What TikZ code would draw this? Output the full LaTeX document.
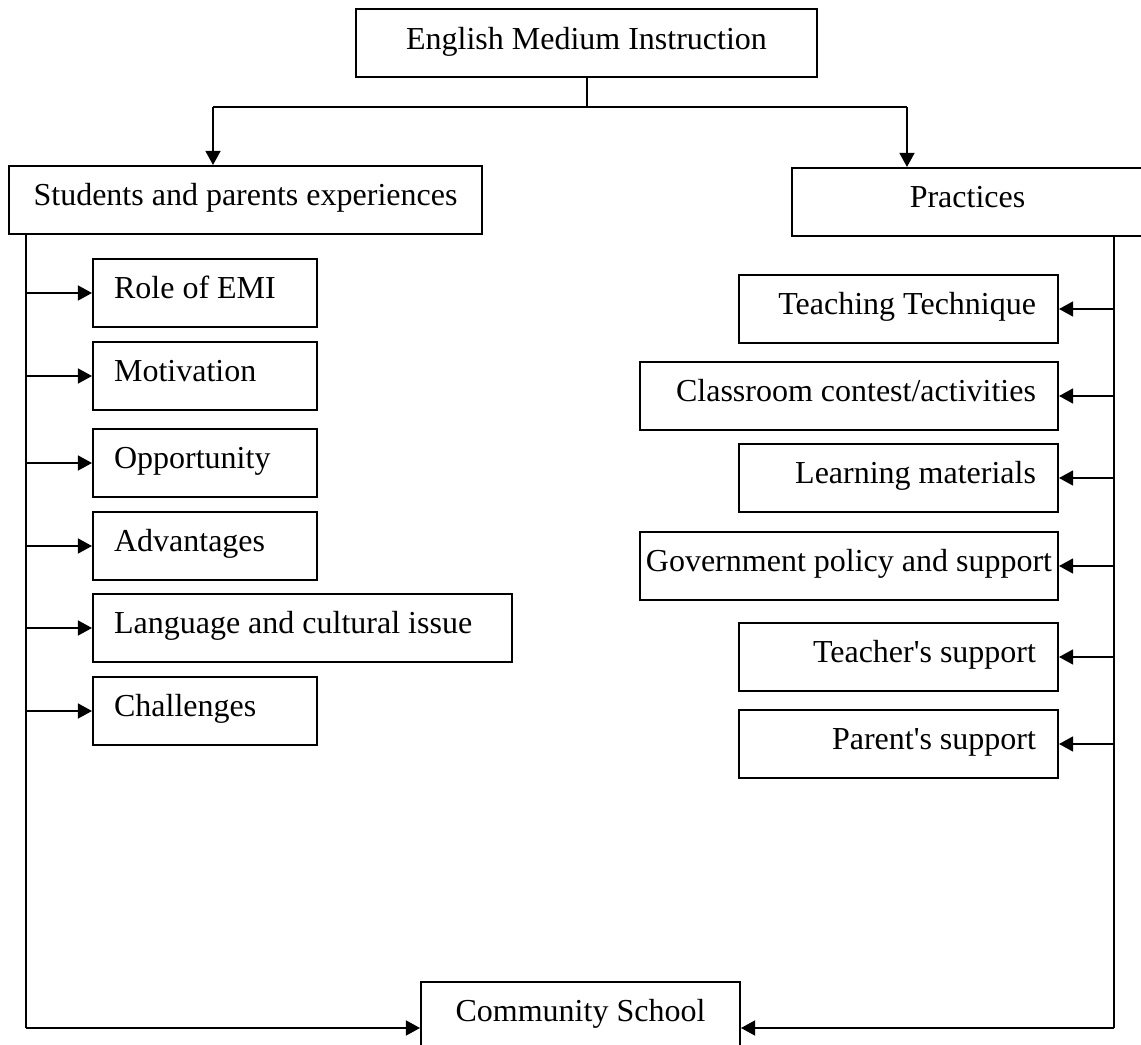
\documentclass[tikz,border=0pt]{standalone}
\usepackage{fontspec}
\setmainfont{Liberation Serif}
\usetikzlibrary{arrows.meta}

\tikzset{
  box/.style={draw, line width=0.75pt, minimum height=25.5pt, inner ysep=0pt,
    text height=7.8pt, text depth=3.6pt, font=\fontsize{12}{14}\selectfont},
  lbox/.style={box, anchor=west, text width=#1, inner xsep=7.9pt, align=flush left},
  rbox/.style={box, anchor=east, text width=#1, inner xsep=8.25pt, align=flush right},
  arr/.style={line width=0.75pt, -{Triangle[length=5.3pt,width=5.6pt]}},
  bus/.style={line width=0.75pt}
}

\begin{document}
\begin{tikzpicture}[x=0.375pt, y=-0.375pt]
\useasboundingbox (0,0) rectangle (1141,1045);

\node[box, minimum width=172.9pt] (emi) at (586.5,43.5) {English Medium Instruction};
\node[box, minimum width=177.4pt] (spe) at (245.5,200) {Students and parents experiences};
\node[box, minimum width=131.6pt] (prac) at (967.5,202) {Practices};

% left column
\node[lbox=68.2pt] (role) at (92,293) {Role of EMI};
\node[lbox=68.2pt] (motiv) at (92,376) {Motivation};
\node[lbox=68.2pt] (oppor) at (92,463) {Opportunity};
\node[lbox=68.2pt] (advan) at (92,546) {Advantages};
\node[lbox=141.4pt] (lang) at (92,628) {Language and cultural issue};
\node[lbox=68.2pt] (chall) at (92,711) {Challenges};

% right column
\node[rbox=103.1pt] (tech) at (1059,309) {Teaching Technique};
\node[rbox=140.2pt] (contest) at (1059,396) {Classroom contest/activities};
\node[rbox=103.1pt] (mater) at (1059,478) {Learning materials};
\node[box, anchor=east, minimum width=156.75pt, inner xsep=1pt] (govt) at (1059,566) {Government policy and support};
\node[rbox=103.1pt] (teach) at (1059,657) {Teacher\textquotesingle s support};
\node[rbox=103.1pt] (parent) at (1059,744) {Parent\textquotesingle s support};

\node[box, minimum width=119.6pt] (cs) at (580.5,1016) {Community School};

\coordinate (split) at (586.5,107);
\coordinate (ldrop) at (213,107);
\coordinate (rdrop) at (907,107);
\coordinate (ltop) at (26,234);
\coordinate (lend) at (26,1028);
\coordinate (rtop) at (1114,236);
\coordinate (rend) at (1114,1028);

\draw[bus] (emi.south) -- (split);
\draw[bus] (ldrop) -- (rdrop);
\draw[arr] (ldrop) -- (ldrop |- spe.north);
\draw[arr] (rdrop) -- (rdrop |- prac.north);

\draw[bus] (ltop) -- (lend);
\draw[arr] (ltop |- role.west) -- (role.west);
\draw[arr] (ltop |- motiv.west) -- (motiv.west);
\draw[arr] (ltop |- oppor.west) -- (oppor.west);
\draw[arr] (ltop |- advan.west) -- (advan.west);
\draw[arr] (ltop |- lang.west) -- (lang.west);
\draw[arr] (ltop |- chall.west) -- (chall.west);
\draw[arr] (lend) -- (lend -| cs.west);

\draw[bus] (rtop) -- (rend);
\draw[arr] (rtop |- tech.east) -- (tech.east);
\draw[arr] (rtop |- contest.east) -- (contest.east);
\draw[arr] (rtop |- mater.east) -- (mater.east);
\draw[arr] (rtop |- govt.east) -- (govt.east);
\draw[arr] (rtop |- teach.east) -- (teach.east);
\draw[arr] (rtop |- parent.east) -- (parent.east);
\draw[arr] (rend) -- (rend -| cs.east);

\end{tikzpicture}
\end{document}
